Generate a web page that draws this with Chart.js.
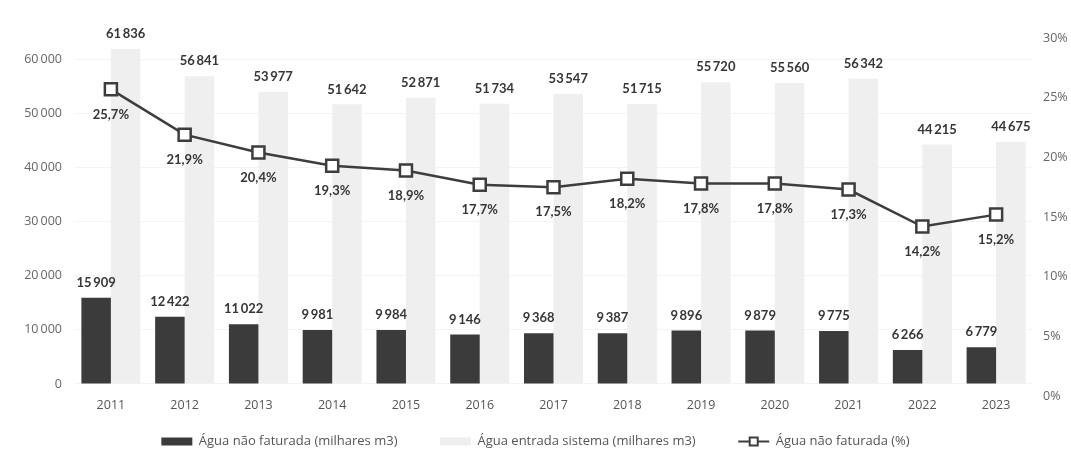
<!DOCTYPE html>
<html lang="pt">
<head>
  <meta charset="UTF-8">
  <title>Água não faturada</title>
  <script src="https://cdn.jsdelivr.net/npm/chart.js"></script>
  <style>
body {
  margin: 0;
  background: #fff;
}
.wrap {
  width: 1071px;
  height: 470px;
}
  </style>
</head>
<body>
  <div class="wrap"><canvas id="grafico" width="1071" height="470"></canvas></div>
  <script>
    // dados
    var anos = ['2011', '2012', '2013', '2014', '2015', '2016', '2017', '2018', '2019', '2020', '2021', '2022', '2023'];
    var aguaNaoFaturada = [15909, 12422, 11022, 9981, 9984, 9146, 9368, 9387, 9896, 9879, 9775, 6266, 6779];
    var aguaEntrada = [61836, 56841, 53977, 51642, 52871, 51734, 53547, 51715, 55720, 55560, 56342, 44215, 44675];
    var percNaoFaturada = [25.7, 21.9, 20.4, 19.3, 18.9, 17.7, 17.5, 18.2, 17.8, 17.8, 17.3, 14.2, 15.2];
    var ticksEsquerda = [0, 10000, 20000, 30000, 40000, 50000, 60000];

    var corEscura = '#3b3b3b';
    var corClara = '#efefef';
    var corLinha = '#3d3d3d';

    function milhares(v) {
      return String(Math.round(v)).replace(/\B(?=(\d{3})+(?!\d))/g, '\u2009');
    }

    // rótulos por cima das barras e por baixo dos pontos
    var rotulos = {
      id: 'rotulos',
      afterDatasetsDraw: function(chart) {
        var ctx = chart.ctx;
        ctx.save();
        ctx.fillStyle = '#363636';
        ctx.font = 'bold 13px Lato, "Open Sans", sans-serif';
        ctx.textAlign = 'center';
        ctx.textBaseline = 'middle';
        chart.data.datasets.forEach(function(ds, i) {
          var meta = chart.getDatasetMeta(i);
          meta.data.forEach(function(el, j) {
            var v = ds.data[j];
            if (ds.type === 'line') {
              ctx.fillText(v.toFixed(1).replace('.', ',') + '%', el.x, el.y + 25);
            } else {
              ctx.fillText(milhares(v), el.x, el.y - 15);
            }
          });
        });
        ctx.restore();
      },
      afterDraw: function(chart) {
        // símbolo da série em linha na legenda: traço com quadrado
        var legenda = chart.legend;
        if (!legenda || !legenda.legendHitBoxes) return;
        var items = legenda.legendItems;
        var ctx = chart.ctx;
        items.forEach(function(it, k) {
          if (it.datasetIndex !== 2) return;
          var hb = legenda.legendHitBoxes[k];
          var bw = legenda.options.labels.boxWidth;
          var cy = hb.top + hb.height / 2;
          ctx.save();
          ctx.strokeStyle = corLinha;
          ctx.lineWidth = 2;
          ctx.beginPath();
          ctx.moveTo(hb.left, cy);
          ctx.lineTo(hb.left + bw, cy);
          ctx.stroke();
          ctx.fillStyle = '#fff';
          ctx.fillRect(hb.left + bw / 2 - 4, cy - 4, 8, 8);
          ctx.strokeRect(hb.left + bw / 2 - 4, cy - 4, 8, 8);
          ctx.restore();
        });
      }
    };

    var fonteEixo = { family: '"Open Sans", sans-serif', size: 12.5 };
    var fonteLegenda = { family: '"Open Sans", sans-serif', size: 13 };

    var grafico = new Chart(document.getElementById('grafico'), {
      type: 'bar',
      data: {
        labels: anos,
        datasets: [{
          label: 'Água não faturada (milhares m3)',
          data: aguaNaoFaturada,
          backgroundColor: corEscura,
          yAxisID: 'y',
          order: 1
        }, {
          label: 'Água entrada sistema (milhares m3)',
          data: aguaEntrada,
          backgroundColor: corClara,
          yAxisID: 'y',
          order: 2
        }, {
          type: 'line',
          label: 'Água não faturada (%)',
          data: percNaoFaturada,
          borderColor: corLinha,
          backgroundColor: '#ffffff',
          borderWidth: 2.5,
          pointStyle: 'rect',
          pointRadius: 8.5,
          pointBorderWidth: 2.5,
          pointBackgroundColor: '#ffffff',
          pointBorderColor: corLinha,
          tension: 0,
          yAxisID: 'y1',
          order: 0
        }]
      },
      options: {
        responsive: false,
        animation: false,
        layout: {
          padding: { top: 38, left: 0, right: 0, bottom: 12 }
        },
        datasets: {
          bar: {
            barPercentage: 1,
            categoryPercentage: 0.8
          }
        },
        scales: {
          x: {
            grid: { display: false },
            border: { display: false },
            ticks: { color: '#555', font: fonteEixo, padding: -6 },
            afterFit: function(s) { s.height = 29; }
          },
          y: {
            position: 'left',
            min: -2222,
            max: 63889,
            grid: { color: '#f4f4f4', drawTicks: false },
            border: { display: false },
            ticks: {
              color: '#666',
              font: fonteEixo,
              padding: 12,
              callback: function(v) { return milhares(v); }
            },
            afterBuildTicks: function(s) {
              s.ticks = ticksEsquerda.map(function(v) { return { value: v }; });
            },
            afterFit: function(s) { s.width = 74; }
          },
          y1: {
            position: 'right',
            min: 0,
            max: 30,
            grid: { display: false, drawTicks: false },
            border: { display: false },
            ticks: {
              stepSize: 5,
              color: '#666',
              font: fonteEixo,
              padding: 10,
              callback: function(v) { return v + '%'; }
            },
            afterFit: function(s) { s.width = 38; }
          }
        },
        plugins: {
          tooltip: { enabled: false },
          legend: {
            position: 'bottom',
            labels: {
              boxWidth: 31,
              boxHeight: 8,
              padding: 10,
              color: '#555',
              font: fonteLegenda,
              sort: function(a, b) { return a.datasetIndex - b.datasetIndex; },
              generateLabels: function(chart) {
                var itens = Chart.defaults.plugins.legend.labels.generateLabels(chart);
                itens.forEach(function(it) {
                  it.lineWidth = 0;
                  if (it.datasetIndex === 2) {
                    it.fillStyle = 'rgba(0,0,0,0)';
                    it.strokeStyle = 'rgba(0,0,0,0)';
                  } else {
                    // espaço extra entre itens da legenda
                    it.text = it.text + '\u2003\u2003\u2002';
                  }
                });
                return itens;
              }
            }
          }
        }
      },
      plugins: [rotulos]
    });
  </script>
</body>
</html>
